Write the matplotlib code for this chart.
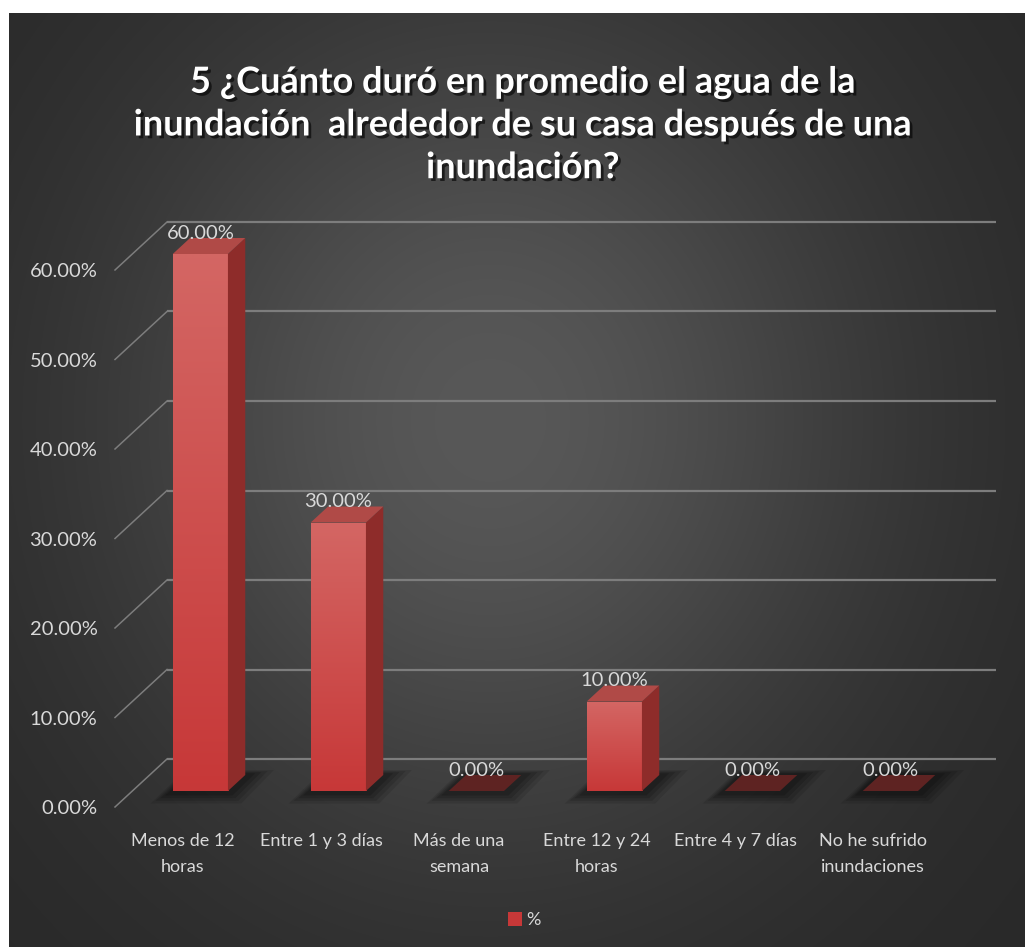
import numpy as np
import matplotlib
matplotlib.use("Agg")
import matplotlib.pyplot as plt
from matplotlib import patheffects as pe
from matplotlib.patches import Polygon
from matplotlib.ticker import PercentFormatter

# ---------------- datos ----------------
categorias = ["Menos de 12\nhoras", "Entre 1 y 3 días", "Más de una\nsemana",
              "Entre 12 y 24\nhoras", "Entre 4 y 7 días", "No he sufrido\ninundaciones"]
porcentajes = [60.0, 30.0, 0.0, 10.0, 0.0, 0.0]
ticks_y = [0, 10, 20, 30, 40, 50, 60]
serie = "%"
titulo = ("5 ¿Cuánto duró en promedio el agua de la\n"
          "inundación  alrededor de su casa después de una\n"
          "inundación?")

# ---------------- estilo ----------------
FUENTE = ["Lato", "DejaVu Sans"]
TXT = "#d9d9d9"
ROJO_FRENTE_SUP = np.array([0.83, 0.40, 0.39])
ROJO_FRENTE_INF = np.array([0.78, 0.22, 0.22])
ROJO_LADO = "#8e2c2a"
ROJO_TAPA = "#b04a47"
ROJO_TAPA_CERO = "#5e2322"
GRIS_LINEA = "#7d7d7d"

W, H = 1025, 947
fig = plt.figure(figsize=(W / 100, H / 100), dpi=100)

# fondo oscuro con degradado radial y margen blanco arriba/izquierda
bg = fig.add_axes([0, 0, 1, 1], zorder=-10)
yy, xx = np.mgrid[0:H, 0:W]
g = np.exp(-((xx - 490) / 390.0) ** 2 - ((yy - 420) / 430.0) ** 2)
val = 0.155 + (0.345 - 0.155) * g
img = np.dstack([val, val, val])
img[:13, :, :] = 1.0
img[:, :9, :] = 1.0
bg.imshow(img, aspect="auto", interpolation="bilinear")
bg.axis("off")

# ---------------- ejes (plano frontal) ----------------
PX_CAT, PX_PCT = 138.0, 8.95      # pixeles por categoria / por punto porcentual
X0_PX, Y0_PX = 183.0, 807.0       # centro de la 1a categoria y el 0% en el plano frontal
xlim = (-0.6, 5.9)
ylim = (-1.0, 66.0)
izq_px = X0_PX + xlim[0] * PX_CAT
inf_px = Y0_PX - ylim[0] * PX_PCT
ax = fig.add_axes([izq_px / W, (H - inf_px) / H,
                   (xlim[1] - xlim[0]) * PX_CAT / W,
                   (ylim[1] - ylim[0]) * PX_PCT / H])
ax.set_xlim(*xlim)
ax.set_ylim(*ylim)
ax.set_facecolor("none")
for s in ax.spines.values():
    s.set_visible(False)

# profundidad del grafico 3D expresada en unidades de datos
DX = 52.0 / PX_CAT
DY = 48.0 / PX_PCT
X_IZQ = (115.0 - X0_PX) / PX_CAT
X_DER = (996.0 - X0_PX) / PX_CAT

# lineas de la pared del fondo y diagonales del lateral
for v in ticks_y:
    ax.plot([X_IZQ + DX, X_DER], [v + DY, v + DY], color=GRIS_LINEA, lw=1.6,
            zorder=1, clip_on=False, solid_capstyle="butt")
    ax.plot([X_IZQ, X_IZQ + DX], [v, v + DY], color=GRIS_LINEA, lw=1.1,
            zorder=1, clip_on=False)

# barras: cara frontal a 1/3 de la profundidad
xs = np.arange(len(categorias))
ANCHO = 0.40
fx = xs + DX / 3
base = DY / 3
frente = ax.bar(fx, porcentajes, width=ANCHO, bottom=base,
                color=tuple(ROJO_FRENTE_INF), zorder=5, label=serie)

grad = np.linspace(0, 1, 64)[:, None, None]
grad_img = ROJO_FRENTE_SUP * (1 - grad) + ROJO_FRENTE_INF * grad

for i, (rect, h) in enumerate(zip(frente.patches, porcentajes)):
    x0 = rect.get_x()
    x1 = x0 + ANCHO
    dx, dy = DX / 3, DY / 3

    # sombra difusa sobre el piso
    for k, a in enumerate([0.10, 0.12, 0.14, 0.16]):
        m = 0.16 - k * 0.035
        my = 1.4 - k * 0.3
        pts = [(x0 - m, base - my), (x1 + m * 0.6, base - my),
               (x1 + dx + m * 1.3, base + dy + my * 0.4), (x0 + dx - m * 0.2, base + dy + my * 0.4)]
        ax.add_patch(Polygon(pts, closed=True, facecolor="black", edgecolor="none",
                             alpha=a, zorder=3, clip_on=False))

    if h > 0:
        im = ax.imshow(grad_img, extent=[x0, x1, base, base + h], aspect="auto",
                       zorder=5.5, interpolation="bilinear")
        im.set_clip_path(rect)
        lado = [(x1, base), (x1 + dx, base + dy), (x1 + dx, base + h + dy), (x1, base + h)]
        ax.add_patch(Polygon(lado, closed=True, facecolor=ROJO_LADO, edgecolor="none",
                             zorder=6, clip_on=False))
        color_tapa = ROJO_TAPA
    else:
        color_tapa = ROJO_TAPA_CERO
    tapa = [(x0, base + h), (x1, base + h), (x1 + dx, base + h + dy), (x0 + dx, base + h + dy)]
    ax.add_patch(Polygon(tapa, closed=True, facecolor=color_tapa, edgecolor="none",
                         zorder=6, clip_on=False))

    ax.text(fx[i], base + h + dy - 0.4, f"{h:.2f}%", ha="center", va="bottom",
            color=TXT, fontsize=14.5, family=FUENTE, zorder=8)

# ejes y etiquetas
ax.set_yticks(ticks_y)
ax.yaxis.set_major_formatter(PercentFormatter(decimals=2))
ax.set_xticks(xs, categorias)
ax.tick_params(axis="both", length=0, colors=TXT)
ax.tick_params(axis="y", pad=2, labelsize=14.5)
ax.tick_params(axis="x", pad=12, labelsize=13)
for lab in ax.get_xticklabels():
    lab.set_family(FUENTE)
    lab.set_linespacing(1.8)
for lab in ax.get_yticklabels():
    lab.set_family(FUENTE)

# titulo
fig.text(523 / W, 1 - 125 / H, titulo, ha="center", va="center", color="white",
         fontsize=26, fontweight="bold", family=FUENTE, linespacing=1.36,
         path_effects=[pe.withSimplePatchShadow(offset=(2, -2), shadow_rgbFace="black", alpha=0.6)])

# leyenda
fig.legend(handles=[frente], labels=[serie], loc="center",
           bbox_to_anchor=(524 / W, 1 - 920 / H), frameon=False, labelcolor=TXT,
           prop={"family": FUENTE, "size": 13}, handlelength=0.8, handleheight=0.8,
           handletextpad=0.2)

fig.savefig("out.png", dpi=100)
